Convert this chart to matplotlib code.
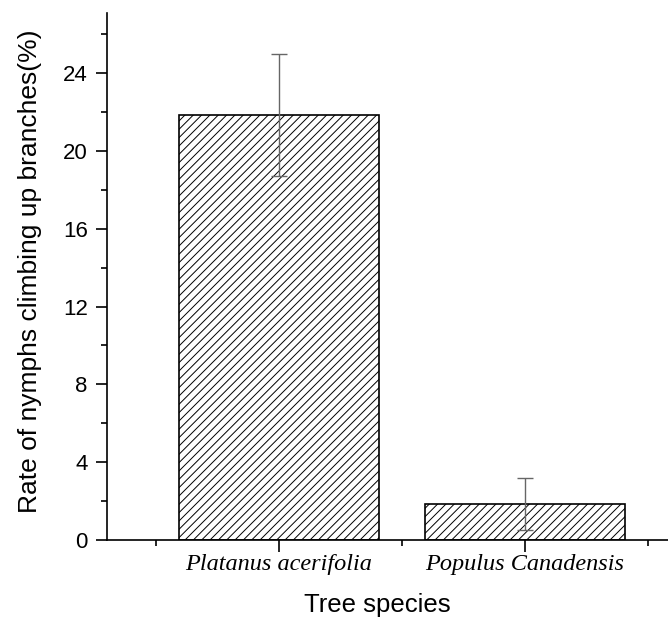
"""Rate of nymphs climbing up branches by tree species."""
import matplotlib
matplotlib.use('Agg')
from matplotlib import pyplot as plt
from matplotlib import font_manager

species = ['Platanus acerifolia', 'Populus Canadensis']
rate = [21.84, 1.84]
rate_err = [3.15, 1.33]

yticks = [0, 4, 8, 12, 16, 20, 24]


def pick_font(preferred, fallback):
    """Use preferred family when it is installed."""
    names = {f.name for f in font_manager.fontManager.ttflist}
    return preferred if preferred in names else fallback


def main():
    plt.rcParams['font.family'] = 'Liberation Sans'
    plt.rcParams['hatch.linewidth'] = 0.7
    plt.rcParams['hatch.color'] = '#444444'

    W, H = 668, 621
    fig = plt.figure(figsize=(W / 100, H / 100), dpi=100)

    # axes frame in pixels (left spine at 106.6, bottom at 540, top 13.3)
    left, bottom, top = 106.6, 540, 13.3
    ax = fig.add_axes([left / W, 1 - bottom / H, 1 - left / W,
                       (bottom - top) / H])

    x = [1, 2]
    ax.bar(x, rate, width=0.81, facecolor='white', edgecolor='black',
           linewidth=1.2, hatch='////', zorder=2)
    ax.errorbar(x, rate, yerr=rate_err, fmt='none', ecolor='#666666',
                elinewidth=1.0, capsize=5.5, capthick=1.0, zorder=3)

    ax.set_xlim(0.3, 2.581)
    ax.set_ylim(0, 27.07)

    ax.spines['top'].set_visible(False)
    ax.spines['right'].set_visible(False)
    for side in ['left', 'bottom']:
        ax.spines[side].set_linewidth(1.2)

    ax.set_yticks(yticks)
    ax.set_yticks([v + 2 for v in yticks], minor=True)
    ax.set_xticks(x)
    ax.set_xticks([0.5, 1.5, 2.5], minor=True)
    ax.set_xticklabels(species, family='Liberation Serif', style='italic',
                       fontsize=17.5)
    ax.tick_params(axis='y', which='major', direction='out', length=8,
                   width=1.2, labelsize=16, pad=5.5)
    ax.tick_params(axis='x', which='major', direction='out', length=8.5,
                   width=1.2, pad=1.5)
    ax.tick_params(which='minor', direction='out', length=4.5, width=1.2)

    fig.text(37 / W, 1 - 271 / H, 'Rate of nymphs climbing up branches(%)',
             rotation=90, rotation_mode='anchor', ha='center',
             va='baseline', fontsize=19)

    narrow = pick_font('Liberation Sans Narrow', None)
    if narrow:
        fig.text(377.5 / W, 1 - 612 / H, 'Tree species', family=narrow,
                 ha='center', va='baseline', fontsize=22)
    else:
        fig.text(377.5 / W, 1 - 612 / H, 'Tree species',
                 ha='center', va='baseline', fontsize=18.5)

    fig.savefig('out.png', dpi=100)


if __name__ == '__main__':
    main()
